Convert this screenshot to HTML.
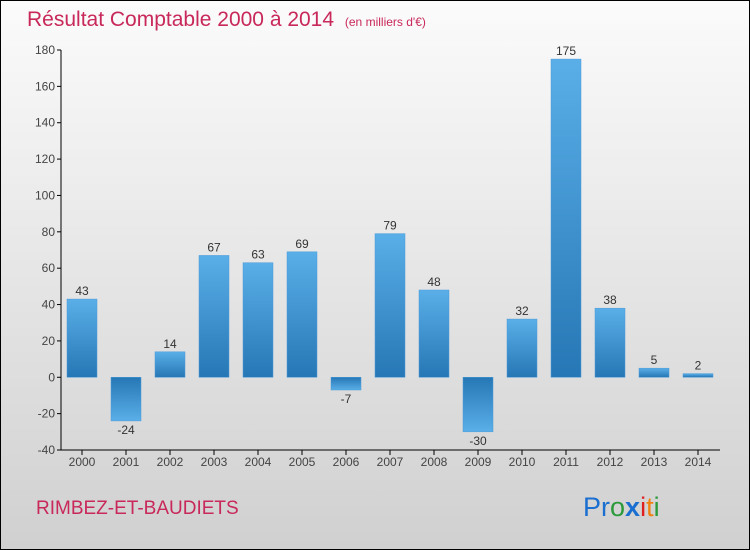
<!DOCTYPE html>
<html><head><meta charset="utf-8"><style>
body{margin:0}
#c{width:748px;height:548px;border:1px solid #000;background:linear-gradient(#fbfbfb,#d0d0d0);position:relative;font-family:"Liberation Sans",sans-serif;overflow:hidden}
</style></head><body>
<div id="c">
<svg width="748" height="548" viewBox="1 1 748 548" id="svg">
<defs>
<linearGradient id="gp" x1="0" y1="0" x2="0" y2="1"><stop offset="0" stop-color="#5aafe8"/><stop offset="1" stop-color="#2677b5"/></linearGradient>
<linearGradient id="gn" x1="0" y1="0" x2="0" y2="1"><stop offset="0" stop-color="#2677b5"/><stop offset="1" stop-color="#5aafe8"/></linearGradient>
</defs>
<text x="27" y="26" font-size="21" fill="#c8285a">Résultat Comptable 2000 à 2014 <tspan font-size="12" dx="5">(en milliers d'€)</tspan></text>
<g id="plot"></g>
<text x="36" y="514" font-size="19" fill="#c8285a">RIMBEZ-ET-BAUDIETS</text>
<text x="583" y="516" font-size="27"><tspan fill="#1a6fd0">Pr</tspan><tspan fill="#2a9a3a">o</tspan><tspan fill="#1a6fd0" font-weight="bold">x</tspan><tspan fill="#e02020">i</tspan><tspan fill="#f08010">t</tspan><tspan fill="#2a9a3a">i</tspan></text>
</svg></div>
<script>
const years=["2000","2001","2002","2003","2004","2005","2006","2007","2008","2009","2010","2011","2012","2013","2014"];
const values=[43,-24,14,67,63,69,-7,79,48,-30,32,175,38,5,2];
const yTicks=[-40,-20,0,20,40,60,80,100,120,140,160,180];
const NS="http://www.w3.org/2000/svg";
const g=document.getElementById('plot');
const y=v=>50+(180-v)*400/220;
const x=i=>82+i*44;
function mk(t,a){const e=document.createElementNS(NS,t);for(const k in a)e.setAttribute(k,a[k]);g.appendChild(e);return e;}
const ax=mk('path',{d:`M61 50V450H720`,stroke:'#000',fill:'none','stroke-width':1});


yTicks.forEach(v=>{
 const l=mk('line',{x1:57,x2:61,y1:y(v),y2:y(v),stroke:'#000'});
 
 
 const t=mk('text',{x:55,y:y(v)+4,'text-anchor':'end','font-size':12,fill:'#444'});t.textContent=v;
 
 
});
years.forEach((yr,i)=>{
 const v=values[i],cx=x(i);
 const l=mk('line',{x1:cx,x2:cx,y1:450,y2:455,stroke:'#000'});
 
 
 const t=mk('text',{x:cx,y:466,'text-anchor':'middle','font-size':12,fill:'#444'});t.textContent=yr;
 
 
 const top=Math.min(y(v),y(0)),h=Math.abs(y(v)-y(0));
 const r=mk('rect',{x:cx-15,y:top,width:30,height:h,fill:v>=0?'url(#gp)':'url(#gn)',stroke:'#4a9ad8','stroke-width':0.5});
 
 
 const lb=mk('text',{x:cx,y:v>=0?y(v)-4:y(v)+13,'text-anchor':'middle','font-size':12,fill:'#333'});lb.textContent=v;
 
 
});
</script>
</body></html>
